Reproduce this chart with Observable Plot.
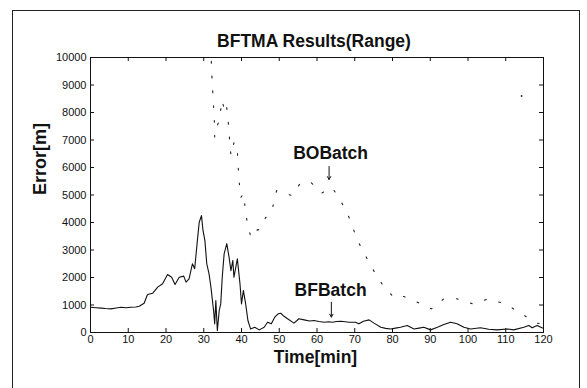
<!DOCTYPE html>
<html><head><meta charset="utf-8">
<script src="https://cdn.jsdelivr.net/npm/d3@7"></script>
<script src="https://cdn.jsdelivr.net/npm/@observablehq/plot@0.6"></script>
<style>
body{margin:0;background:#fff;}
#wrap{position:relative;width:587px;height:388px;overflow:hidden;background:#fff;}
#border{position:absolute;left:12px;top:10px;width:568px;height:400px;border:1.5px solid #222;box-sizing:border-box;}
#chart{position:absolute;left:0;top:0;}
</style></head><body>
<div id="wrap"><div id="border"></div><div id="chart"></div></div>
<script>
const title = "BFTMA Results(Range)";
const xLabel = "Time[min]";
const yLabel = "Error[m]";
const xTicks = [0,10,20,30,40,50,60,70,80,90,100,110,120];
const yTicks = [0,1000,2000,3000,4000,5000,6000,7000,8000,9000,10000];

// BFBatch (solid)
const bfTime = [0,1.5,2.8,4,5.4,6.8,8.1,9.5,10.7,12,12.9,14.2,15.1,16.5,17.8,19.1,20.4,21.5,22.4,23.5,24.7,25.3,26.1,27.0,27.6,28.4,28.8,29.4,29.8,30.3,30.8,31.4,31.9,32.6,32.9,33.2,33.6,34.1,34.5,34.9,35.4,36.1,36.7,37.2,37.7,38.0,38.9,39.6,40.0,40.5,41.1,41.7,42.4,43.5,44.7,46.0,46.9,47.9,48.8,49.7,50.4,51.0,52.2,53.9,55.2,56.6,58.0,59.2,60.5,61.9,63.0,64.1,65.2,66.3,67.5,68.5,70.2,71.1,72.3,73.8,75.1,76.9,78.2,79.5,80.8,82.1,83.9,85.7,87.0,88.3,90.1,91.9,93.6,95.4,97.1,98.9,100.7,103.3,105.5,107.7,110.4,112.1,114.8,116.1,117.0,118.3,119.6,120];
const bfError = [920,900,885,870,860,890,920,900,920,930,957,1065,1380,1430,1650,1770,2110,2010,1745,2010,2050,1830,1950,2500,2320,3470,4010,4250,3710,3350,2500,2130,1650,800,315,1160,70,800,1040,2010,2860,3230,2740,2250,2620,2010,2680,1770,1040,1530,1040,436,130,190,95,190,375,315,555,680,700,620,500,340,500,460,420,436,400,375,390,375,400,410,390,375,375,315,410,460,340,190,150,130,160,190,255,130,160,190,95,190,290,375,315,190,130,170,120,95,130,95,190,255,170,255,170,150];

// BOBatch (dotted); NaN marks a break in the line
const boTime = [0,5,10,15,20,25,28.8,29,29.3,30.0,31.0,31.8,32.2,32.5,32.8,32.9,33.4,34.2,34.8,35.3,35.9,36.4,36.8,37.2,38.0,38.8,39.0,39.3,39.8,40.6,41.1,41.7,42.5,43.8,44.8,46.4,47.2,48.3,49.3,51.2,53.5,55.7,58.5,61.2,64.1,66.7,68.9,70.5,72.6,74.7,77.3,80.4,83.0,86.6,90.3,93.6,97.1,101.3,105.5,110.2,114.5,118.3,120];
const boError = [0,0,0,0,0,0,0,NaN,10400,11500,12000,10500,9200,8500,7700,7100,7450,7750,8450,8200,8400,7800,7100,6440,6900,6870,6330,5600,4910,5050,4330,3890,3450,3710,3750,4180,4250,4580,5160,5060,4980,5460,5440,5070,5260,4680,4070,3410,2860,2320,1750,1260,1310,1100,860,1225,1225,1040,1225,1020,650,340,300];
const boOutlierTime = [114.2];
const boOutlierError = [8600];

// annotations
const seriesNames = ["BOBatch", "BFBatch"];
const nameTime = [63.6, 63.6];
const nameError = [6510, 1527];
const arrowTime = [63.2, 63.8];
const arrowFromError = [6036, 1100];
const arrowToError = [5564, 560];

const bf = bfTime.map((t, i) => ({t, v: bfError[i]}));
const bo = boTime.map((t, i) => ({t, v: boError[i]}));
const outl = boOutlierTime.map((t, i) => ({t, v: boOutlierError[i]}));
const names = seriesNames.map((n, i) => ({n, t: nameTime[i], v: nameError[i]}));
const arrows = arrowTime.map((t, i) => ({t, v1: arrowFromError[i], v2: arrowToError[i]}));

const W = 587, H = 388, mL = 90, mR = 44, mT = 57, mB = 56;
const pw = W - mL - mR, ph = H - mT - mB;
const ink = "#111";

const chart = Plot.plot({
  width: W, height: H,
  marginLeft: mL, marginRight: mR, marginTop: mT, marginBottom: mB,
  style: {fontFamily: "'Liberation Sans', Arial, Helvetica, sans-serif", fontSize: "11px", color: ink, background: "transparent"},
  x: {domain: [0, 120]},
  y: {domain: [0, 10000]},
  marks: [
    Plot.line(bo, {x: "t", y: "v", stroke: "#222", strokeWidth: 1.1, strokeDasharray: "1.8,13", clip: true}),
    Plot.dot(outl, {x: "t", y: "v", r: 0.9, fill: "#222"}),
    Plot.line(bf, {x: "t", y: "v", stroke: ink, strokeWidth: 1.1, clip: true}),
    Plot.frame({stroke: ink, strokeWidth: 1}),
    Plot.tickX(xTicks, {x: d => d, insetTop: ph - 4, stroke: ink}),
    Plot.tickX(xTicks, {x: d => d, insetBottom: ph - 4, stroke: ink}),
    Plot.tickY(yTicks, {y: d => d, insetRight: pw - 4, stroke: ink}),
    Plot.tickY(yTicks, {y: d => d, insetLeft: pw - 4, stroke: ink}),
    Plot.axisX({ticks: xTicks, tickSize: 0, tickPadding: 3, label: null, tickFormat: d => String(d), fontSize: 11}),
    Plot.axisY({ticks: yTicks, tickSize: 0, tickPadding: 4, label: null, tickFormat: d => String(d), fontSize: 11}),
    Plot.text(names, {x: "t", y: "v", text: "n", fontSize: 17.5, fontWeight: "bold", fill: ink}),
    Plot.arrow(arrows, {x1: "t", y1: "v1", x2: "t", y2: "v2", stroke: ink, strokeWidth: 1, headLength: 5}),
    Plot.text([title], {frameAnchor: "top", lineAnchor: "middle", dy: -16, dx: -3, fontSize: 17.5, fontWeight: "bold", fill: ink}),
    Plot.text([xLabel], {frameAnchor: "bottom", lineAnchor: "middle", dy: 25, dx: -1.5, fontSize: 17.5, fontWeight: "bold", fill: ink}),
    Plot.text([yLabel], {frameAnchor: "left", dx: -50.5, dy: 0, rotate: -90, fontSize: 18, fontWeight: "bold", fill: ink})
  ]
});
document.getElementById("chart").appendChild(chart);
</script>
</body></html>
